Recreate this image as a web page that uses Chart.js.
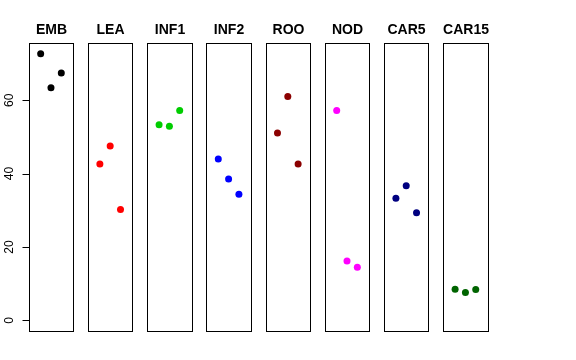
<!DOCTYPE html>
<html>
<head>
<meta charset="utf-8">
<script src="https://cdn.jsdelivr.net/npm/chart.js@4"></script>
<style>
  body { margin: 0; background: #fff; }
  #wrap { width: 576px; height: 360px; }
</style>
</head>
<body>
<div id="wrap"><canvas id="c" width="576" height="360"></canvas></div>
<script>
// panel names and their three values each
const panels = ['EMB', 'LEA', 'INF1', 'INF2', 'ROO', 'NOD', 'CAR5', 'CAR15'];
const emb = [72.7, 63.4, 67.4];
const lea = [42.6, 47.5, 30.2];
const inf1 = [53.3, 52.9, 57.2];
const inf2 = [44.0, 38.5, 34.4];
const roo = [51.1, 61.0, 42.6];
const nod = [57.2, 16.2, 14.5];
const car5 = [33.3, 36.7, 29.3];
const car15 = [8.5, 7.6, 8.4];
const seriesValues = [emb, lea, inf1, inf2, roo, nod, car5, car15];
const colors = ['#000000', '#FF0000', '#00CD00', '#0000FF', '#8B0000', '#FF00FF', '#000080', '#006400'];
const yTicks = [0, 20, 40, 60];

// each panel runs 0..4 on x (R style 4% padding), panels laid side by side
const PITCH = 5.74;
const PAD = 0.16;
const offset = (k) => k * PITCH;

const datasets = seriesValues.map((vals, k) => ({
  label: panels[k],
  data: vals.map((v, i) => ({ x: offset(k) + i + 1, y: v })),
  backgroundColor: colors[k],
  borderColor: colors[k],
  pointRadius: 3.5,
  pointBorderWidth: 0,
}));

const panelPlugin = {
  id: 'panels',
  afterDatasetsDraw(chart) {
    const { ctx, chartArea } = chart;
    const xs = chart.scales.x;
    const ys = chart.scales.y;
    ctx.save();
    ctx.strokeStyle = '#000';
    ctx.lineWidth = 1;
    panels.forEach((name, k) => {
      const l = Math.round(xs.getPixelForValue(offset(k) - PAD)) + 0.5;
      const r = Math.round(xs.getPixelForValue(offset(k) + 4 + PAD)) + 0.5;
      const t = Math.round(chartArea.top) + 0.5;
      const b = Math.round(chartArea.bottom) + 0.5;
      ctx.strokeRect(l, t, r - l, b - t);
      ctx.fillStyle = '#000';
      ctx.font = 'bold 14px "Liberation Sans", Arial, sans-serif';
      ctx.textAlign = 'center';
      ctx.textBaseline = 'alphabetic';
      ctx.fillText(name, (l + r) / 2, 34);
    });
    // y axis: ticks and rotated labels
    const axisX = Math.round(xs.getPixelForValue(offset(0) - PAD)) + 0.5;
    ctx.font = '12px "Liberation Sans", Arial, sans-serif';
    yTicks.forEach((v) => {
      const y = Math.round(ys.getPixelForValue(v)) + 0.5;
      ctx.beginPath();
      ctx.moveTo(axisX - 7, y);
      ctx.lineTo(axisX, y);
      ctx.stroke();
      ctx.save();
      ctx.translate(12.5, ys.getPixelForValue(v));
      ctx.rotate(-Math.PI / 2);
      ctx.textAlign = 'center';
      ctx.textBaseline = 'alphabetic';
      ctx.fillText(String(v), 0, 0);
      ctx.restore();
    });
    ctx.restore();
  },
};

new Chart(document.getElementById('c'), {
  type: 'scatter',
  data: { datasets },
  options: {
    responsive: false,
    animation: false,
    layout: { padding: { left: 28.7, top: 43, right: 88.3, bottom: 29 } },
    plugins: { legend: { display: false }, tooltip: { enabled: false } },
    scales: {
      x: { type: 'linear', display: false, min: offset(0) - PAD, max: offset(7) + 4 + PAD },
      y: { type: 'linear', display: false, min: -2.908, max: 75.608 },
    },
  },
  plugins: [panelPlugin],
});
</script>
</body>
</html>
